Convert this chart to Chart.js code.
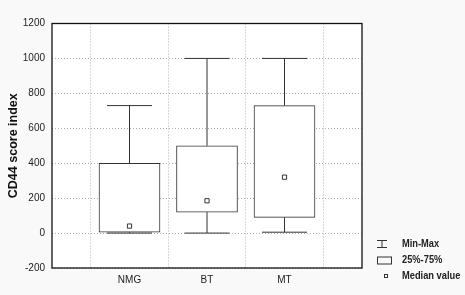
<!DOCTYPE html>
<html>
<head>
<meta charset="utf-8">
<script src="https://cdn.jsdelivr.net/npm/chart.js@4/dist/chart.umd.min.js"></script>
<style>
  html, body { margin: 0; padding: 0; background: #f9f9f9; }
  #wrap { width: 465px; height: 295px; }
</style>
</head>
<body>
<div id="wrap"><canvas id="c" width="465" height="295"></canvas></div>
<script>
// ---- data ----
const categories = ['NMG', 'BT', 'MT'];
const minValues = [0, 0, 5];
const q1Values = [5, 120, 90];
const medianValues = [40, 185, 320];
const q3Values = [400, 500, 730];
const maxValues = [730, 1000, 1000];
const yTicks = [-200, 0, 200, 400, 600, 800, 1000, 1200];
const legendLabels = ['Min-Max', '25%-75%', 'Median value'];
const yTitle = 'CD44 score index';

const positions = categories.map((_, i) => i + 1);
const boxData = positions.map((x, i) => ({ x: x, y: [q1Values[i], q3Values[i]] }));
const whiskerData = [];
positions.forEach((x, i) => {
  whiskerData.push({ x: x, y: q3Values[i] }, { x: x, y: maxValues[i] }, { x: x, y: null });
  whiskerData.push({ x: x, y: minValues[i] }, { x: x, y: q1Values[i] }, { x: x, y: null });
});
const capData = [];
positions.forEach((x, i) => {
  capData.push({ x: x, y: maxValues[i] }, { x: x, y: minValues[i] });
});
const medianData = positions.map((x, i) => ({ x: x, y: medianValues[i] }));

const INK = '#333333';
const FONT = "'Liberation Sans', Arial, sans-serif";

const bgPlugin = {
  id: 'bg',
  beforeDraw(chart) {
    const { ctx, chartArea: a } = chart;
    ctx.save();
    ctx.fillStyle = '#f9f9f9';
    ctx.fillRect(0, 0, chart.width, chart.height);
    ctx.fillStyle = '#ffffff';
    ctx.fillRect(a.left, a.top, a.right - a.left, a.bottom - a.top);
    ctx.restore();
  },
  afterDraw(chart) {
    const { ctx, chartArea: a } = chart;
    ctx.save();
    ctx.strokeStyle = '#111';
    ctx.lineWidth = 1.3;
    ctx.strokeRect(a.left, a.top, a.right - a.left, a.bottom - a.top);
    // legend
    const sx = a.right + 15;
    const tx = a.right + 40;
    const rows = [a.bottom - 24, a.bottom - 7.5, a.bottom + 8.5];
    ctx.strokeStyle = INK;
    ctx.lineWidth = 1;
    ctx.beginPath();
    ctx.moveTo(sx, rows[0] - 3.5); ctx.lineTo(sx + 10, rows[0] - 3.5);
    ctx.moveTo(sx, rows[0] + 3.5); ctx.lineTo(sx + 10, rows[0] + 3.5);
    ctx.moveTo(sx + 5, rows[0] - 3.5); ctx.lineTo(sx + 5, rows[0] + 3.5);
    ctx.stroke();
    ctx.strokeRect(sx + 0.5, rows[1] - 3.5, 14, 7);
    ctx.fillStyle = '#fff';
    ctx.fillRect(sx + 7.5, rows[2] - 2, 3, 3);
    ctx.strokeRect(sx + 7.5, rows[2] - 2, 3, 3);
    ctx.fillStyle = '#222';
    ctx.font = 'bold 10px ' + FONT;
    ctx.textBaseline = 'middle';
    ctx.textAlign = 'left';
    legendLabels.forEach((t, i) => {
      ctx.save();
      ctx.translate(tx, rows[i]);
      ctx.scale(0.93, 1);
      ctx.fillText(t, 0, 0);
      ctx.restore();
    });
    ctx.restore();
  }
};

new Chart(document.getElementById('c'), {
  type: 'bar',
  data: {
    datasets: [
      {
        type: 'line',
        data: whiskerData,
        borderColor: INK,
        borderWidth: 1,
        pointRadius: 0,
        spanGaps: false,
        order: 2
      },
      {
        type: 'bar',
        data: boxData,
        backgroundColor: '#ffffff',
        borderColor: INK,
        borderWidth: 1,
        borderSkipped: false,
        barThickness: 61,
        order: 1
      },
      {
        type: 'scatter',
        data: capData,
        pointStyle: 'line',
        pointRadius: 22.5,
        borderColor: INK,
        borderWidth: 1,
        order: 0
      },
      {
        type: 'scatter',
        data: medianData,
        pointStyle: 'rect',
        pointRadius: 3,
        backgroundColor: '#ffffff',
        borderColor: INK,
        borderWidth: 1,
        order: -1
      }
    ]
  },
  options: {
    responsive: false,
    animation: false,
    layout: { padding: { left: 0, top: 16, right: 103, bottom: 0 } },
    plugins: { legend: { display: false }, tooltip: { enabled: false } },
    scales: {
      x: {
        type: 'linear',
        min: 0,
        max: 4,
        offset: false,
        afterBuildTicks(scale) { scale.ticks = positions.map(v => ({ value: v })); },
        afterFit(scale) { scale.height = 27; },
        ticks: {
          callback: (v) => categories[v - 1],
          font: { family: FONT, size: 10 },
          color: '#222',
          padding: 6,
          maxRotation: 0
        },
        grid: { color: '#b0b0b0', drawTicks: false, lineWidth: 1 },
        border: { display: false, dash: [1, 2] }
      },
      y: {
        min: -200,
        max: 1200,
        afterBuildTicks(scale) { scale.ticks = yTicks.map(v => ({ value: v })); },
        afterFit(scale) { scale.width = 52; },
        ticks: {
          callback: (v) => String(v),
          font: { family: FONT, size: 10 },
          color: '#222',
          padding: 7
        },
        grid: { color: '#b0b0b0', drawTicks: false, lineWidth: 1 },
        border: { display: false, dash: [1, 2] },
        title: {
          display: true,
          text: yTitle,
          font: { family: FONT, size: 12.5, weight: 'bold' },
          color: '#111',
          padding: { top: 6, bottom: 0 }
        }
      }
    }
  },
  plugins: [bgPlugin]
});
</script>
</body>
</html>
